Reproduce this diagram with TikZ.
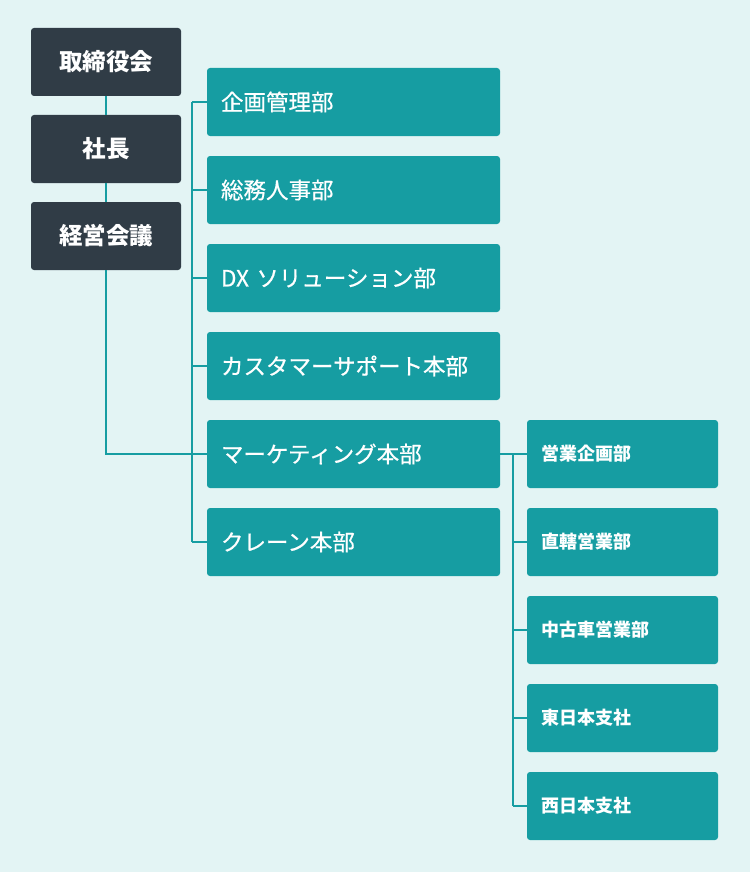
\documentclass[tikz,border=0pt]{standalone}
\usepackage{fontspec}
\setmainfont{Noto Sans CJK JP}
\newfontfamily\medfont[FakeBold=0.6]{Noto Sans CJK JP}
\usetikzlibrary{positioning}
\definecolor{bgcol}{HTML}{E3F4F4}
\definecolor{darkcol}{HTML}{303C46}
\definecolor{tealcol}{HTML}{169DA2}
\tikzset{
  topbox/.style={
    fill=darkcol, rounded corners=3pt, minimum width=150pt, minimum height=68pt,
    text=white, font=\bfseries\fontsize{23.5}{26}\selectfont
  },
  deptbox/.style={
    fill=tealcol, rounded corners=3pt, text width=265pt, inner xsep=14pt,
    minimum height=68pt, align=left, text=white, font=\medfont\fontsize{22.5}{25}\selectfont
  },
  subbox/.style={
    fill=tealcol, rounded corners=3pt, text width=163pt, inner xsep=14pt,
    minimum height=68pt, align=left, text=white, font=\bfseries\fontsize{18}{21}\selectfont
  },
  link/.style={
    draw=tealcol, line width=1.6pt
  }
}

\begin{document}
\begin{tikzpicture}[x=1pt,y=-1pt]
   \fill[bgcol] (0,0) rectangle (750,872);
   \useasboundingbox (0,0) rectangle (750,872);

   % left column
   \node[topbox] (board) at (106,62) {取締役会};
   \node[topbox] (pres) at (106,149) {社長};
   \node[topbox] (meeting) at (106,236) {経営会議};

   % departments
   \node[deptbox] (d1) at (353.5,102) {企画管理部};
   \node[deptbox] (d2) at (353.5,190) {総務人事部};
   \node[deptbox] (d3) at (353.5,278) {DX ソリューション部};
   \node[deptbox] (d4) at (353.5,366) {カスタマーサポート本部};
   \node[deptbox] (mkt) at (353.5,454) {マーケティング本部};
   \node[deptbox] (d6) at (353.5,542) {クレーン本部};

   % sales units
   \node[subbox] (s1) at (622.5,454) {営業企画部};
   \node[subbox] (s2) at (622.5,542) {直轄営業部};
   \node[subbox] (s3) at (622.5,630) {中古車営業部};
   \node[subbox] (s4) at (622.5,718) {東日本支社};
   \node[subbox] (s5) at (622.5,806) {西日本支社};

   \draw[link] (board) -- (pres);
   \draw[link] (pres) -- (meeting);
   \draw[link] (meeting.south) |- (mkt.west);

   \draw[link] ([xshift=-15pt]d1.west) -- ([xshift=-15pt]d6.west);
   \foreach \n in {d1,d2,d3,d4,mkt,d6}
     \draw[link] (\n.west) -- ++(-15pt,0);

   \draw[link] (mkt.east) -- (s1.west);
   \draw[link] ([xshift=-14pt]s1.west) -- ([xshift=-14pt]s5.west);
   \foreach \n in {s2,s3,s4,s5}
     \draw[link] (\n.west) -- ++(-14pt,0);
\end{tikzpicture}
\end{document}
